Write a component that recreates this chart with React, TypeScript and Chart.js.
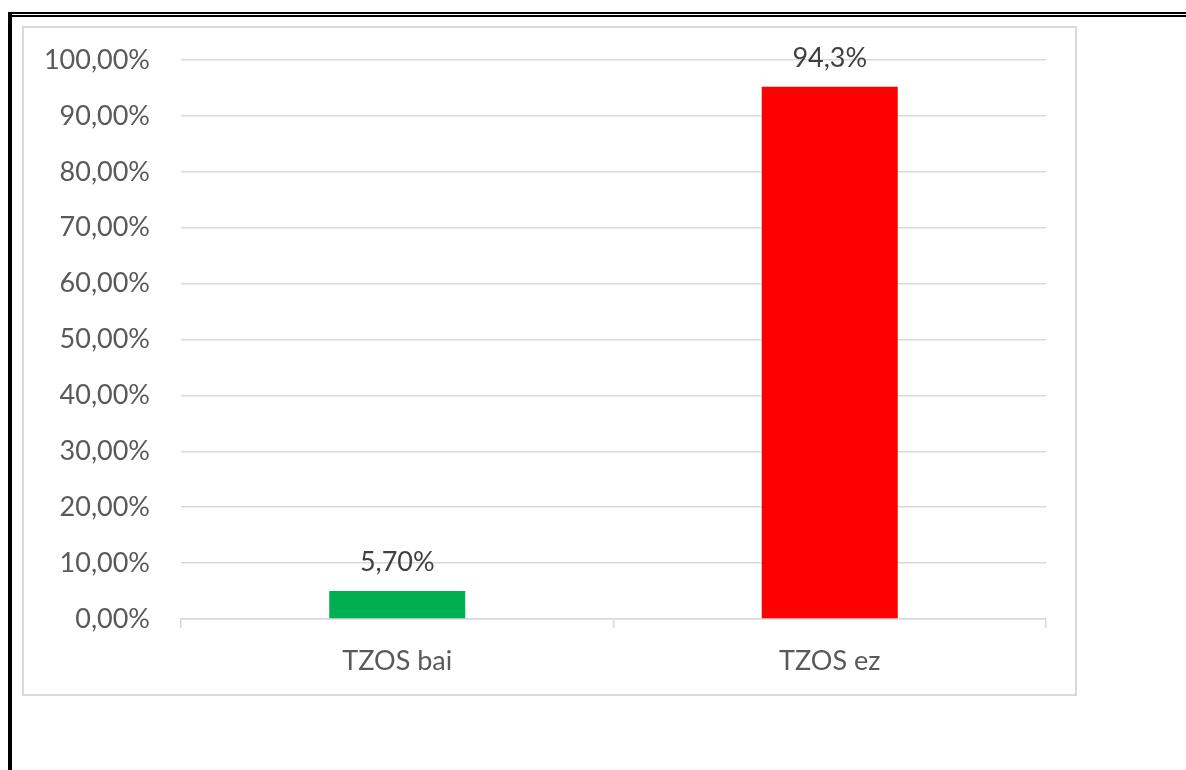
import React, { useEffect, useRef } from "react";
import { Chart, registerables } from "chart.js";

Chart.register(...registerables);

const categories = ["TZOS bai", "TZOS ez"];
const values = [5.0, 95.2];
const valueLabels = ["5,70%", "94,3%"];
const barColors = ["#00B050", "#FF0000"];
const yTickLabels = [
  "0,00%", "10,00%", "20,00%", "30,00%", "40,00%", "50,00%",
  "60,00%", "70,00%", "80,00%", "90,00%", "100,00%",
];

const FONT = "Lato, 'Open Sans', sans-serif";

const framePlugin = {
  id: "frame",
  beforeDraw(chart: any) {
    const ctx = chart.ctx;
    const w = chart.width;
    const h = chart.height;
    ctx.save();
    ctx.fillStyle = "#ffffff";
    ctx.fillRect(0, 0, w, h);
    ctx.fillStyle = "#000000";
    ctx.fillRect(8, 12, w - 8, 2);
    ctx.fillRect(12, 15, w - 12, 2);
    ctx.fillRect(8, 12, 4, h - 12);
    ctx.strokeStyle = "#d9d9d9";
    ctx.lineWidth = 2;
    ctx.strokeRect(23, 27, 1053, 668);
    ctx.restore();
  },
};

const labelPlugin = {
  id: "valueLabels",
  afterDatasetsDraw(chart: any) {
    const ctx = chart.ctx;
    const meta = chart.getDatasetMeta(0);
    ctx.save();
    ctx.font = `27px ${FONT}`;
    ctx.fillStyle = "#404040";
    ctx.textAlign = "center";
    ctx.textBaseline = "middle";
    meta.data.forEach((bar: any, i: number) => {
      ctx.fillText(valueLabels[i], bar.x, bar.y - 29);
    });
    ctx.restore();
  },
};

export default function App() {
  const ref = useRef<HTMLCanvasElement>(null);
  useEffect(() => {
    if (!ref.current) return;
    const chart = new Chart(ref.current, {
      type: "bar",
      data: {
        labels: categories,
        datasets: [
          {
            data: values,
            backgroundColor: barColors,
            borderWidth: 0,
            categoryPercentage: 1,
            barPercentage: 0.3145,
          },
        ],
      },
      options: {
        responsive: false,
        animation: false,
        events: [],
        layout: { padding: { left: 22, top: 60, right: 140, bottom: 0 } },
        plugins: {
          legend: { display: false },
          tooltip: { enabled: false },
          title: { display: false },
        },
        scales: {
          x: {
            offset: true,
            grid: {
              offset: true,
              drawOnChartArea: false,
              drawTicks: true,
              tickLength: 9,
              color: "#d9d9d9",
              lineWidth: 1.5,
            },
            border: { display: true, color: "#d9d9d9", width: 1.5 },
            ticks: {
              color: "#595959",
              font: { family: FONT, size: 27 },
              padding: 17,
            },
            afterFit(scale: any) {
              scale.height = 151;
            },
          },
          y: {
            min: 0,
            max: 100,
            grid: { drawTicks: false, color: "#d9d9d9", lineWidth: 1.5 },
            border: { display: false },
            ticks: {
              stepSize: 10,
              color: "#595959",
              font: { family: FONT, size: 27 },
              padding: 31,
              callback: (_v: any, i: number) => yTickLabels[i],
            },
            afterFit(scale: any) {
              scale.width = 159;
            },
          },
        },
      },
      plugins: [framePlugin, labelPlugin],
    });
    return () => chart.destroy();
  }, []);
  return (
    <div style={{ position: "absolute", left: 0, top: 0, width: 1186, height: 770 }}>
      <canvas ref={ref} width={1186} height={770} style={{ display: "block" }} />
    </div>
  );
}
